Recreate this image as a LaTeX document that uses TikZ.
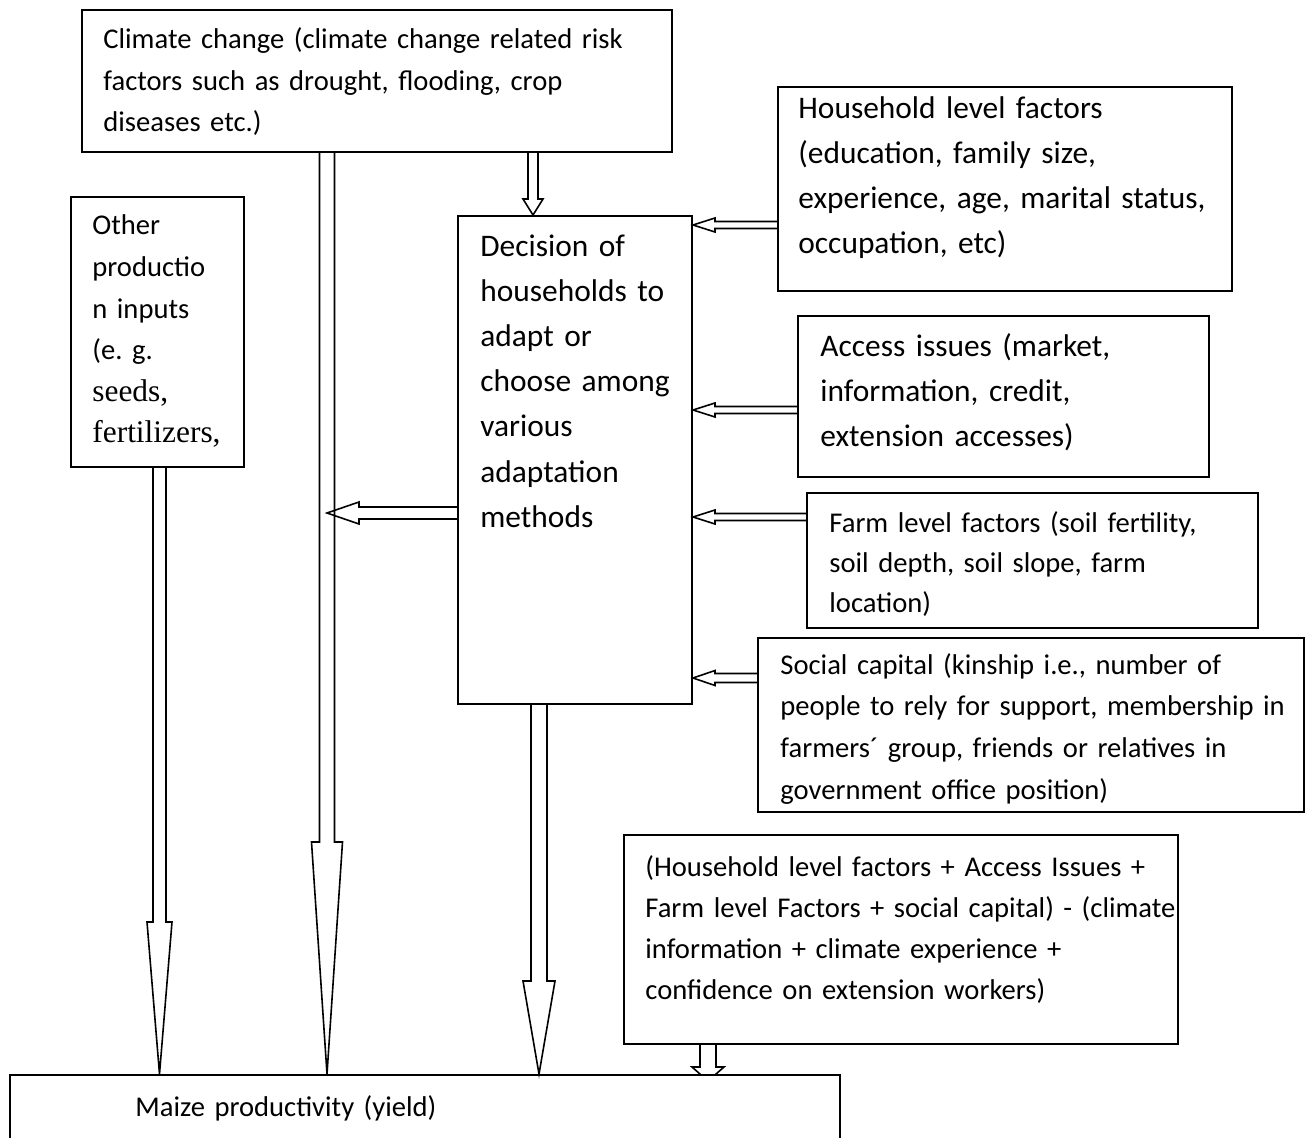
\documentclass[tikz,border=0pt]{standalone}
\usepackage{fontspec}
\setmainfont{Carlito}
\newfontfamily\tnr{Liberation Serif}
\usetikzlibrary{calc,backgrounds}
\frenchspacing
\newcommand\blkdown[5]{\draw[blk] let \p1=(#1), \p2=(#2) in (\x1-#3,\y1) -- (\x1-#3,\y2+#5) -- (\x1-#4,\y2+#5) -- (\x1,\y2) -- (\x1+#4,\y2+#5) -- (\x1+#3,\y2+#5) -- (\x1+#3,\y1);}
\newcommand\blkleft[5]{\draw[blk] let \p1=(#1), \p2=(#2) in (\x1,\y1+#3) -- (\x2+#5,\y1+#3) -- (\x2+#5,\y1+#4) -- (\x2,\y1) -- (\x2+#5,\y1-#4) -- (\x2+#5,\y1-#3) -- (\x1,\y1-#3);}
\tikzset{
  box/.style={draw, line width=1pt, rectangle, inner sep=0pt},
  blk/.style={draw, line width=0.8pt, line join=miter},
  big/.style={font=\fontsize{15.7}{22.5}\selectfont},
  sml/.style={font=\fontsize{14.3}{20.6}\selectfont},
  txt/.style={anchor=base west, inner sep=0pt, text width=300pt, align=left}
}
\begin{document}
\begin{tikzpicture}[x=0.5pt, y=-0.5pt]
\useasboundingbox (0,0) rectangle (1309,1138);
\clip (0,0) rectangle (1309,1138);

% boxes
\node[box, minimum width=295pt, minimum height=71pt] (clim) at (377,81) {};
\node[box, minimum width=227pt, minimum height=102pt] (hh) at (1005,189) {};
\node[box, minimum width=117pt, minimum height=244pt] (dec) at (575,460) {};
\node[box, minimum width=86.5pt, minimum height=135pt] (oth) at (157.5,332) {};
\node[box, minimum width=205.5pt, minimum height=80.5pt] (acc) at (1003.5,396.5) {};
\node[box, minimum width=225.5pt, minimum height=67.5pt] (farm) at (1032.5,560.5) {};
\node[box, minimum width=273pt, minimum height=87pt] (soc) at (1031,725) {};
\node[box, minimum width=277pt, minimum height=104.5pt] (form) at (901,939.5) {};
\node[box, minimum width=415pt, minimum height=50pt, fill=white] (maize) at (425,1125) {};

% texts
\node[txt, sml] (climT) at (103,49) {Climate change (climate change related risk\\factors such as drought, flooding, crop\\diseases etc.)};
\node[txt, big] (hhT) at (798,119) {Household level factors\\(education, family size,\\experience, age, marital status,\\occupation, etc)};
\node[txt, big] (decT) at (480,257) {Decision of\\households to\\adapt or\\choose among\\various\\adaptation\\methods};
\node[txt, font=\fontsize{14.3}{20.8}\selectfont] (othT) at (92,235) {Other\\productio\\n inputs\\(e. g.\\{\tnr\fontsize{15.7}{20.8}\selectfont seeds,}\\{\tnr\fontsize{15.7}{20.8}\selectfont fertilizers,}};
\node[txt, big] (accT) at (820,357) {Access issues (market,\\information, credit,\\extension accesses)};
\node[txt, font=\fontsize{14.3}{20}\selectfont] (farmT) at (829,532) {Farm level factors (soil fertility,\\soil depth, soil slope, farm\\location)};
\node[txt, font=\fontsize{14.3}{20.85}\selectfont] (socT) at (780,674) {Social capital (kinship i.e., number of\\people to rely for support, membership in\\farmers´ group, friends or relatives in\\government office position)};
\node[txt, font=\fontsize{14.3}{20.5}\selectfont] (formT) at (645,876) {(Household level factors + Access Issues +\\Farm level Factors + social capital) - (climate\\information + climate experience +\\confidence on extension workers)};
\node[txt, sml] (maizeT) at (135,1116) {Maize productivity (yield)};

% block arrows
\blkdown{[xshift=-25pt]clim.south}{maize.north}{3.75pt}{7.75pt}{116pt}
\blkdown{[xshift=1pt]oth.south}{maize.north}{3.25pt}{6.25pt}{76pt}
\blkdown{[xshift=-18pt]dec.south}{maize.north}{4pt}{8pt}{46.5pt}
\blkdown{[xshift=78pt]clim.south}{dec.north}{2.5pt}{5pt}{8pt}
\blkleft{[yshift=-26.5pt]dec.west}{[xshift=-25pt]clim.south}{3pt}{5.5pt}{16pt}
\blkleft{[yshift=-18pt]hh.west}{dec.east}{1.75pt}{3.5pt}{11pt}
\blkleft{[yshift=-6.75pt]acc.west}{dec.east}{1.75pt}{3.5pt}{11pt}
\blkleft{[yshift=21.75pt]farm.west}{dec.east}{1.75pt}{3.5pt}{11pt}
\blkleft{[yshift=23.5pt]soc.west}{dec.east}{2.25pt}{3.75pt}{11pt}
\begin{scope}[on background layer]
\blkdown{[xshift=-96.5pt]form.south}{[yshift=-3.5pt]maize.north}{4pt}{8pt}{7pt}
\end{scope}
\end{tikzpicture}
\end{document}
